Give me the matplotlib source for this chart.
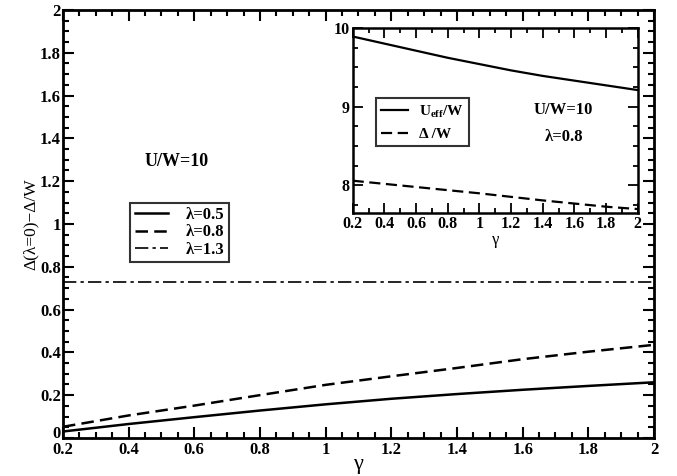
import matplotlib.pyplot as plt
from matplotlib.ticker import MultipleLocator

plt.rcParams['font.family'] = ['Liberation Serif', 'DejaVu Serif']
plt.rcParams['font.weight'] = 'bold'
plt.rcParams['mathtext.default'] = 'regular'

# main panel data
gamma = [0.2, 0.4, 0.6, 0.8, 1.0, 1.2, 1.4, 1.6, 1.8, 2.0]
d_l05 = [0.03, 0.065, 0.097, 0.128, 0.157, 0.183, 0.205, 0.225, 0.243, 0.26]
d_l08 = [0.052, 0.105, 0.151, 0.20, 0.248, 0.288, 0.327, 0.368, 0.403, 0.435]
d_l13 = [0.728, 0.728, 0.728, 0.728, 0.728, 0.728, 0.728, 0.728, 0.728, 0.728]

# inset data (lambda = 0.8)
u_eff = [9.89, 9.80, 9.71, 9.62, 9.54, 9.46, 9.39, 9.33, 9.27, 9.21]
delta = [8.06, 8.02, 7.98, 7.94, 7.90, 7.855, 7.81, 7.77, 7.73, 7.70]

xt = [0.2, 0.4, 0.6, 0.8, 1.0, 1.2, 1.4, 1.6, 1.8, 2.0]
xtl = ['0.2', '0.4', '0.6', '0.8', '1', '1.2', '1.4', '1.6', '1.8', '2']
yt = [0, 0.2, 0.4, 0.6, 0.8, 1.0, 1.2, 1.4, 1.6, 1.8, 2.0]
ytl = ['0', '0.2', '0.4', '0.6', '0.8', '1', '1.2', '1.4', '1.6', '1.8', '2']

fig = plt.figure(figsize=(6.77, 4.76), dpi=100)
ax = fig.add_axes([0.093, 0.080, 0.873, 0.899])

ax.plot(gamma, d_l05, color='black', lw=1.8, label='λ=0.5')
ax.plot(gamma, d_l08, color='black', lw=1.8, ls=(0, (5, 2.5)), label='λ=0.8')
ax.plot(gamma, d_l13, color='black', lw=1.2, ls=(0, (8, 2.5, 2, 2.5)), label='λ=1.3')

ax.set_xlim(0.2, 2)
ax.set_ylim(0, 2)
ax.set_xticks(xt)
ax.set_xticklabels(xtl)
ax.set_yticks(yt)
ax.set_yticklabels(ytl)
ax.xaxis.set_minor_locator(MultipleLocator(0.05))
ax.yaxis.set_minor_locator(MultipleLocator(0.05))
ax.tick_params(which='both', direction='in', top=True, right=True, width=1.5, labelsize=12, pad=1.5)
ax.tick_params(axis='x', which='both', pad=3)
ax.tick_params(which='major', length=8)
ax.tick_params(which='minor', length=4)
for s in ax.spines.values():
    s.set_linewidth(2)
ax.set_xlabel('γ', fontsize=16, labelpad=-2)
ax.set_ylabel('Δ(λ=0)−Δ/W', fontsize=12.5, labelpad=1)

# the "0" y label sits on its tick so it clears the "0.2" x label
ax.yaxis.get_major_ticks()[0].label1.set_verticalalignment('baseline')

ax.text(0.547, 1.29, 'U/W=10', fontsize=13, ha='center', va='center')
leg = ax.legend(loc='upper left', bbox_to_anchor=(0.114, 0.55), fontsize=12, frameon=True,
                fancybox=False, edgecolor='black', handlelength=2.0, borderpad=0.25,
                labelspacing=0.1, handletextpad=1.1, borderaxespad=0)
leg.get_frame().set_linewidth(1.5)

# inset
ins = fig.add_axes([0.521, 0.5525, 0.421, 0.389])
ins.plot(gamma, u_eff, color='black', lw=1.6, label='U$_{eff}$/W')
ins.plot(gamma, delta, color='black', lw=1.6, ls=(0, (5, 2.5)), label='Δ /W')
ins.set_xlim(0.2, 2)
ins.set_ylim(7.65, 10)
ins.set_xticks(xt)
ins.set_xticklabels(xtl)
ins.xaxis.set_minor_locator(MultipleLocator(0.1))
ins.set_yticks([8, 9, 10])
ins.set_yticklabels(['8', '9', '10'])
ins.yaxis.set_minor_locator(MultipleLocator(0.25))
ins.tick_params(which='both', direction='in', top=True, right=True, width=1.3, labelsize=11.5, pad=2)
ins.tick_params(which='major', length=7)
ins.tick_params(which='minor', length=3.5)
for s in ins.spines.values():
    s.set_linewidth(1.8)
ins.set_xlabel('γ', fontsize=12, labelpad=0)
ins.text(0.74, 0.557, 'U/W=10', transform=ins.transAxes, fontsize=12, ha='center', va='center')
ins.text(0.74, 0.41, 'λ=0.8', transform=ins.transAxes, fontsize=12, ha='center', va='center')
ileg = ins.legend(loc='upper left', bbox_to_anchor=(0.08, 0.62), fontsize=11, frameon=True,
                  fancybox=False, edgecolor='black', handlelength=1.8, borderpad=0.35,
                  labelspacing=0.5, handletextpad=0.7, borderaxespad=0)
ileg.get_frame().set_linewidth(1.5)

fig.savefig('out.png', dpi=100)
